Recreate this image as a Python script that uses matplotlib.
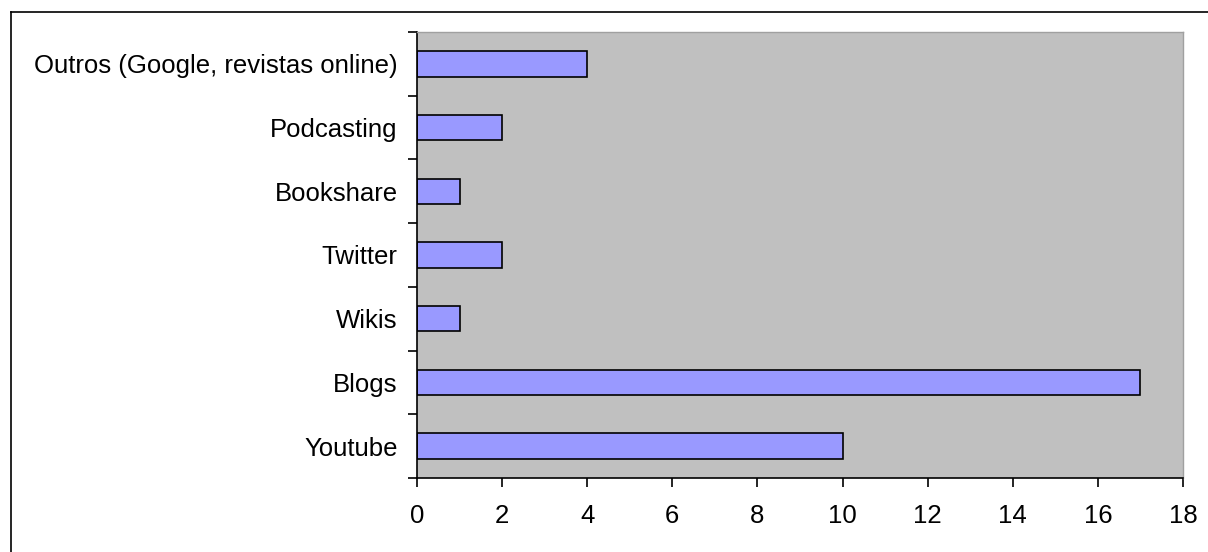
import matplotlib
matplotlib.use("Agg")
import matplotlib.pyplot as plt
from matplotlib.lines import Line2D

categories = ["Youtube", "Blogs", "Wikis", "Twitter", "Bookshare", "Podcasting",
              "Outros (Google, revistas online)"]
values = [10, 17, 1, 2, 1, 2, 4]
xticks = [0, 2, 4, 6, 8, 10, 12, 14, 16, 18]

plt.rcParams['font.family'] = ['Liberation Sans', 'DejaVu Sans']

W, H = 1208, 552
fig = plt.figure(figsize=(W / 100, H / 100), dpi=100)
fig.patch.set_facecolor("white")

left, right, top, bottom = 417, 1183, 32, 478
ax = fig.add_axes([left / W, 1 - bottom / H, (right - left) / W, (bottom - top) / H])
ax.set_facecolor("#C0C0C0")

ypos = list(range(len(categories)))
ax.barh(ypos, values, height=0.4, color="#9999FF", edgecolor="black", linewidth=1.2)

ax.set_xlim(0, 18)
ax.set_ylim(-0.5, len(categories) - 0.5)
ax.set_xticks(xticks)
ax.set_xticklabels([str(t) for t in xticks], fontsize=18.5)
ax.set_yticks(ypos)
ax.set_yticklabels(categories, fontsize=18.5)
ax.tick_params(axis="y", length=0, pad=14)
ax.set_yticks([i - 0.5 for i in range(len(categories) + 1)], minor=True)
ax.tick_params(axis="y", which="minor", length=6.5, width=1.2, direction="out")
ax.tick_params(axis="x", length=6.5, width=1.2, direction="out", pad=12)

for s in ["top", "right"]:
    ax.spines[s].set_color("#A0A0A0")
    ax.spines[s].set_linewidth(1)
for s in ["left", "bottom"]:
    ax.spines[s].set_color("black")
    ax.spines[s].set_linewidth(1.2)

# outer frame (top and left edges visible)
fig.add_artist(Line2D([11 / W, 11 / W], [0, 1 - 12 / H], transform=fig.transFigure,
                      color="black", linewidth=1.2))
fig.add_artist(Line2D([11 / W, 1], [1 - 12 / H, 1 - 12 / H], transform=fig.transFigure,
                      color="black", linewidth=1.2))

fig.savefig("out.png", dpi=100)
